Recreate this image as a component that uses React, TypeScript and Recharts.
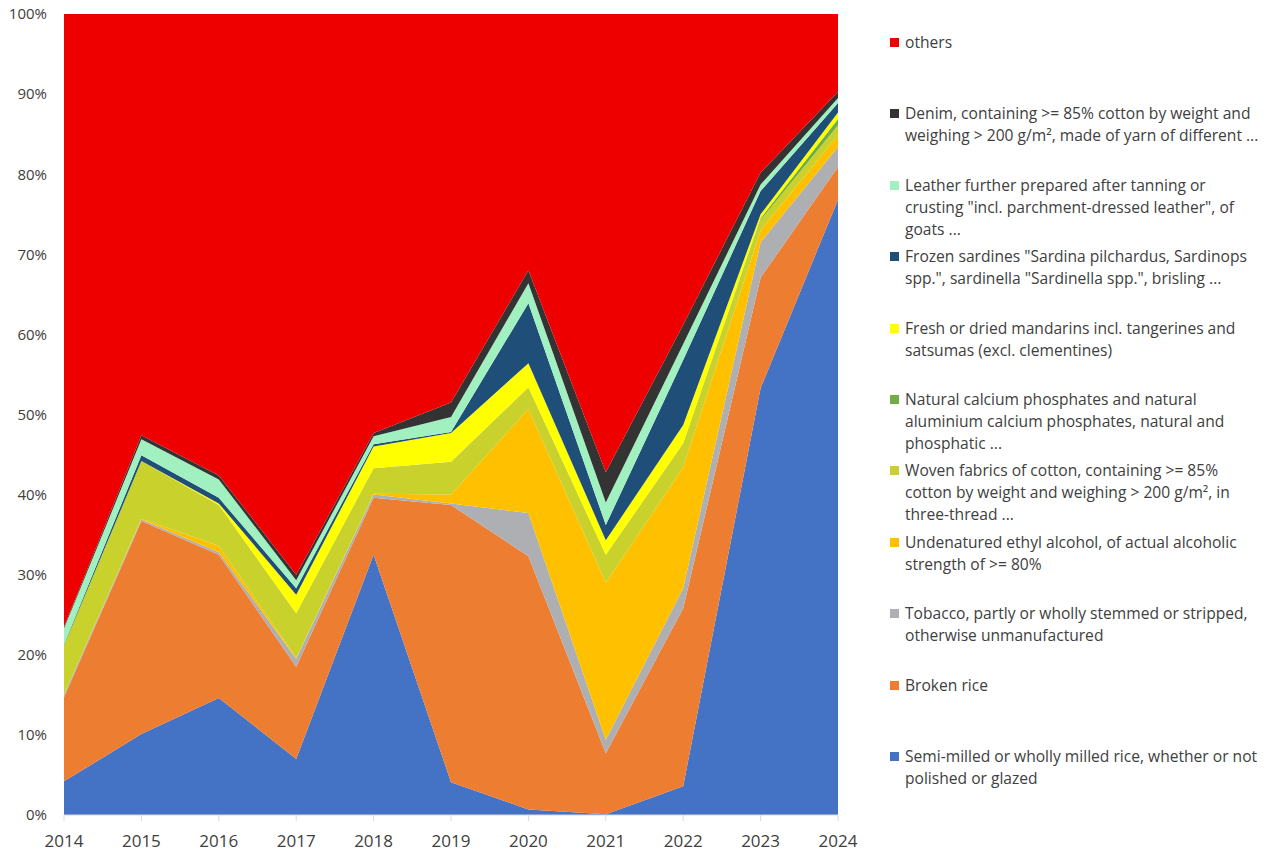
import React from 'react'
import { AreaChart, Area, XAxis, YAxis } from 'recharts'

const years = ['2014', '2015', '2016', '2017', '2018', '2019', '2020', '2021', '2022', '2023', '2024']
const percentTicks = [0, 10, 20, 30, 40, 50, 60, 70, 80, 90, 100]

// shares in % of total
const semiMilledRice = [4.2, 10.1, 14.6, 7.0, 32.5, 4.1, 0.7, 0.1, 3.6, 53.3, 76.8]
const brokenRice = [10.5, 26.6, 17.9, 11.5, 7.1, 34.6, 31.6, 7.6, 22.2, 13.8, 4.1]
const tobacco = [0.3, 0.2, 0.3, 1.0, 0.4, 0.2, 5.4, 1.7, 2.5, 4.4, 2.5]
const ethylAlcohol = [0, 0.1, 0.8, 0.1, 0.1, 1.1, 13.0, 19.6, 15.1, 1.5, 1.5]
const wovenCotton = [6.2, 7.2, 5.1, 5.6, 3.2, 4.1, 2.7, 3.5, 3.0, 1.3, 1.2]
const calciumPhosphates = [0, 0, 0, 0, 0, 0, 0, 0, 0, 0.2, 0.8]
const mandarins = [0, 0, 0.2, 2.3, 2.7, 3.6, 3.0, 1.8, 2.3, 0.5, 0.8]
const sardines = [0.1, 0.7, 0.7, 0.8, 0.3, 0.1, 7.5, 1.9, 8.1, 2.9, 1.2]
const leather = [2.0, 2.0, 2.3, 1.0, 1.0, 1.9, 2.5, 2.8, 2.0, 0.8, 0.6]
const denim = [0.2, 0.5, 0.5, 0.7, 0.4, 1.8, 1.6, 3.8, 2.4, 1.5, 0.8]
const others = [76.5, 52.6, 57.6, 70.0, 52.3, 48.5, 32.0, 57.2, 38.8, 19.8, 9.7]

const series = [
  { key: 'semiMilledRice', values: semiMilledRice, color: '#4472C4', label: ['Semi-milled or wholly milled rice, whether or not', 'polished or glazed'] },
  { key: 'brokenRice', values: brokenRice, color: '#ED7D31', label: ['Broken rice'] },
  { key: 'tobacco', values: tobacco, color: '#AEAFB2', label: ['Tobacco, partly or wholly stemmed or stripped,', 'otherwise unmanufactured'] },
  { key: 'ethylAlcohol', values: ethylAlcohol, color: '#FFC000', label: ['Undenatured ethyl alcohol, of actual alcoholic', 'strength of >= 80%'] },
  { key: 'wovenCotton', values: wovenCotton, color: '#C9D12C', label: ['Woven fabrics of cotton, containing >= 85%', 'cotton by weight and weighing > 200 g/m², in', 'three-thread ...'] },
  { key: 'calciumPhosphates', values: calciumPhosphates, color: '#70AD47', label: ['Natural calcium phosphates and natural', 'aluminium calcium phosphates, natural and', 'phosphatic ...'] },
  { key: 'mandarins', values: mandarins, color: '#FFFF00', label: ['Fresh or dried mandarins incl. tangerines and', 'satsumas (excl. clementines)'] },
  { key: 'sardines', values: sardines, color: '#1F4E79', label: ['Frozen sardines "Sardina pilchardus, Sardinops', 'spp.", sardinella "Sardinella spp.", brisling ...'] },
  { key: 'leather', values: leather, color: '#A0F0C0', label: ['Leather further prepared after tanning or', 'crusting "incl. parchment-dressed leather", of', 'goats ...'] },
  { key: 'denim', values: denim, color: '#333333', label: ['Denim, containing >= 85% cotton by weight and', 'weighing > 200 g/m², made of yarn of different ...'] },
  { key: 'others', values: others, color: '#EE0000', label: ['others'] },
]

const chartData = years.map((year, i) => {
  const row: Record<string, any> = { year }
  series.forEach(s => { row[s.key] = s.values[i] })
  return row
})

const font = '"Open Sans", sans-serif'

export default function App() {
  const legendItems = [...series].reverse()
  return (
    <div style={{ position: 'relative', left: -8, top: -8, width: 1280, height: 855, fontFamily: font }}>
      <AreaChart width={858} height={855} data={chartData} margin={{ top: 14, right: 20, left: 0, bottom: 10 }}>
        <XAxis
          dataKey="year"
          height={30}
          tickSize={6}
          tickMargin={14}
          axisLine={{ stroke: '#D9D9D9' }}
          tickLine={{ stroke: '#D9D9D9' }}
          tick={{ fill: '#404040', fontSize: 17, fontFamily: font }}
          interval={0}
        />
        <YAxis
          width={64}
          domain={[0, 100]}
          ticks={percentTicks}
          allowDataOverflow
          tickFormatter={(v: number) => `${v}%`}
          tickSize={0}
          tickMargin={17}
          axisLine={false}
          tickLine={false}
          tick={{ fill: '#404040', fontSize: 15, fontFamily: font }}
        />
        {series.map(s => (
          <Area
            key={s.key}
            type="linear"
            dataKey={s.key}
            stackId="1"
            stroke="none"
            fill={s.color}
            fillOpacity={1}
            isAnimationActive={false}
          />
        ))}
      </AreaChart>
      <div style={{ position: 'absolute', left: 890, top: 32 }}>
        {legendItems.map((s, i) => (
          <div key={s.key} style={{ position: 'absolute', top: i * 71.4, left: 0, display: 'flex', alignItems: 'flex-start', whiteSpace: 'nowrap' }}>
            <div style={{ width: 9, height: 9, background: s.color, marginTop: 6, marginRight: 6, flexShrink: 0 }} />
            <div style={{ fontSize: 15.6, lineHeight: '22px', color: '#404040', marginTop: -1 }}>
              {s.label.map((line, j) => <div key={j}>{line}</div>)}
            </div>
          </div>
        ))}
      </div>
    </div>
  )
}
